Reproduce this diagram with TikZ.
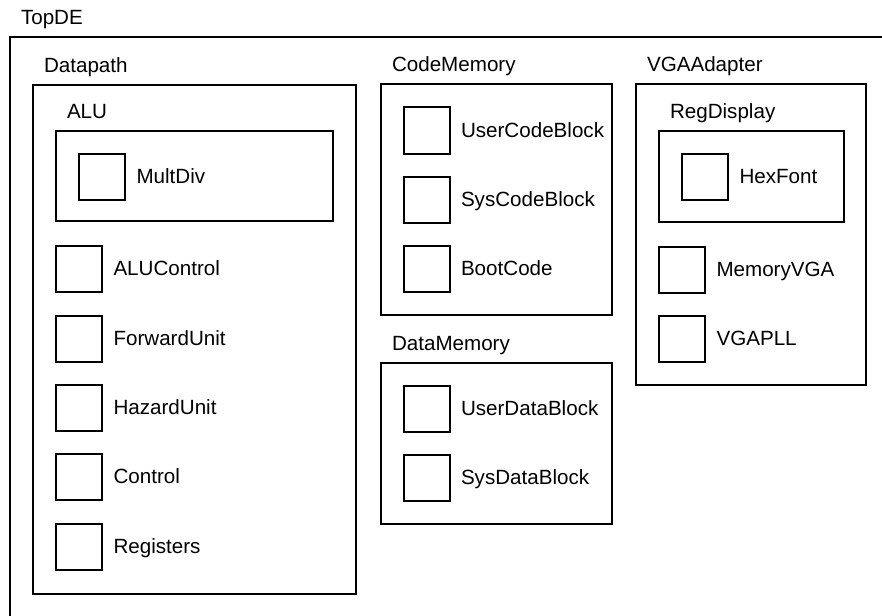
\documentclass[tikz,border=0pt]{standalone}
\usepackage{fontspec}
\setmainfont{Liberation Sans}
\begin{document}
\begin{tikzpicture}[x=1pt, y=-1pt,
  every node/.style={font=\fontsize{20.6}{24}\selectfont},
  box/.style={draw, line width=2pt, inner sep=0pt, outer sep=0pt, anchor=north west},
  cell/.style={box, minimum width=46pt, minimum height=46pt},
  lbl/.style={anchor=base west, inner sep=0pt, outer sep=0pt}]
  \clip (0,0) rectangle (882,615);

  % group box: #1 name, #2 left, #3 top, #4 right, #5 bottom, #6 title
  \newcommand\groupbox[6]{%
    \node[box, minimum width={#4-#2}, minimum height={#5-#3}] (#1) at (#2,#3) {};
    \node[lbl] (#1-t) at ({#2+11},{#3-12.5}) {#6};}
  % leaf cell: #1 name, #2 left, #3 top, #4 title
  \newcommand\leafcell[4]{%
    \node[cell] (#1) at (#2,#3) {};
    \node[lbl] (#1-t) at ({#2+57.5},{#3+29.5}) {#4};}

  % top level (runs past the page on the right and bottom)
  \groupbox{top}{10}{37.5}{900}{640}{TopDE}

  % Datapath
  \groupbox{dp}{33}{85}{356}{593.5}{Datapath}
  \groupbox{alu}{56}{131}{333}{221}{ALU}
  \leafcell{mult}{79}{154}{MultDiv}
  \leafcell{aluc}{56}{246}{ALUControl}
  \leafcell{fwd}{56}{315.5}{ForwardUnit}
  \leafcell{haz}{56}{385}{HazardUnit}
  \leafcell{ctl}{56}{454}{Control}
  \leafcell{regs}{56}{523.5}{Registers}

  % CodeMemory
  \groupbox{cm}{381}{84.5}{611.5}{315}{CodeMemory}
  \leafcell{ucb}{403.5}{107.5}{UserCodeBlock}
  \leafcell{scb}{403.5}{176.5}{SysCodeBlock}
  \leafcell{boot}{403.5}{246}{BootCode}

  % DataMemory
  \groupbox{dm}{381}{363}{611.5}{523.5}{DataMemory}
  \leafcell{udb}{403.5}{386}{UserDataBlock}
  \leafcell{sdb}{403.5}{455}{SysDataBlock}

  % VGAAdapter
  \groupbox{vga}{636}{84}{866}{384.5}{VGAAdapter}
  \groupbox{rd}{659}{131}{843.5}{222}{RegDisplay}
  \leafcell{hex}{682}{154}{HexFont}
  \leafcell{mvga}{659}{247}{MemoryVGA}
  \leafcell{pll}{659}{316}{VGAPLL}
\end{tikzpicture}
\end{document}
